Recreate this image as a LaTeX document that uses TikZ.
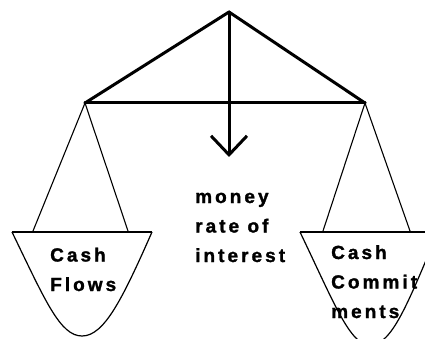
\documentclass[tikz,border=0pt]{standalone}
\usepackage{fontspec}
\setmainfont{Liberation Sans}[LetterSpace=16, BoldFont={Liberation Sans Bold},
  BoldFeatures={FakeBold=1.5}]
\usetikzlibrary{arrows.meta}

\begin{document}
\begin{tikzpicture}[
  x=1pt, y=-1pt,
  beam/.style={line width=3pt, line cap=round, line join=round},
  cord/.style={line width=1.1pt},
  pan/.style={line width=1.2pt},
  rim/.style={line width=2pt},
  label/.style={inner sep=0pt, align=left, anchor=base west,
    font=\fontsize{19}{29.5}\selectfont\bfseries}
]
  \useasboundingbox (0,0) rectangle (425,339);
  \clip (0,0) rectangle (425,339);

  % Frame of the balance
  \coordinate (apex) at (229,12);
  \coordinate (lend) at (85,103);
  \coordinate (rend) at (365,103);
  \coordinate (tip) at (229,157);
  \draw[beam] (lend) -- (apex) -- (rend);
  \draw[beam] (lend) -- (rend);
  \draw[beam, -{Straight Barb[length=19pt, width=36pt, line width=3pt]}] (apex) -- (tip);

  % Left pan
  \coordinate (lpl) at (12,232);
  \coordinate (lpr) at (152,232);
  \coordinate (lbot) at (82,336);
  \draw[cord] (lend) -- (33,231);
  \draw[cord] (lend) -- (128,231);
  \draw[rim] (lpl) -- (lpr);
  \draw[pan] (lpl) .. controls (45,300) and (60,336) .. (lbot)
    .. controls (104,336) and (122,300) .. (lpr);

  % Right pan
  \coordinate (rpl) at (300,232);
  \coordinate (rpr) at (438,232);
  \coordinate (rbot) at (370,345);
  \draw[cord] (rend) -- (323,231);
  \draw[cord] (rend) -- (410,231);
  \draw[rim] (rpl) -- (rpr);
  \draw[pan] (rpl) .. controls (335,305) and (350,345) .. (rbot)
    .. controls (392,345) and (407,305) .. (rpr);

  % Labels (anchored at the baseline of the last line)
  \node[label] (rate) at (195,262) {money\\rate of\\interest};
  \node[label] (flows) at (50,291) {Cash\\Flows};
  \node[label] (commit) at (331,318) {Cash\\Commit\\ments};
\end{tikzpicture}
\end{document}
